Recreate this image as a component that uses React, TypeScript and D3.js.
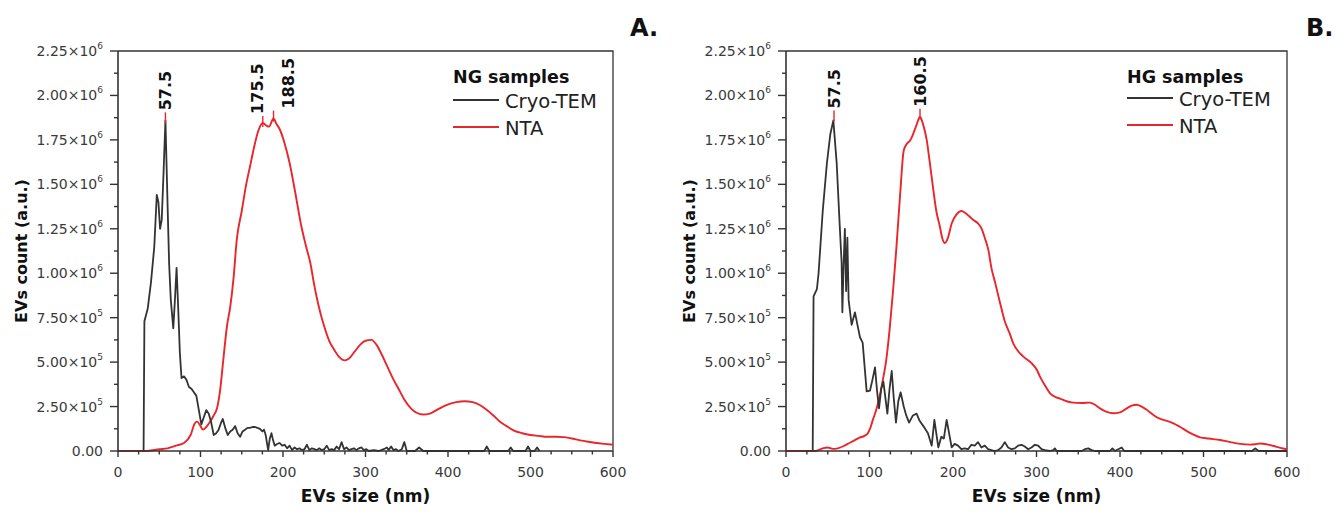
import * as d3 from "d3";

// ---- data (y in counts) ----
const ngCryoX = [31, 32, 36, 40, 44, 47, 49, 51, 53, 55, 57.5, 60, 62, 64, 67, 69, 71, 73, 75, 77, 80, 83, 86, 89, 92, 95, 98, 101, 104, 107, 110, 113, 116, 119, 122, 125, 127, 130, 133, 136, 139, 142, 145, 148, 151, 154, 157, 160, 163, 166, 169, 172, 175, 177, 179, 182, 184, 186, 188, 190, 193, 196, 199, 202, 205, 208, 211, 214, 217, 220, 223, 226, 229, 232, 235, 238, 241, 244, 247, 250, 253, 256, 259, 262, 265, 268, 271, 274, 277, 280, 283, 286, 289, 292, 295, 298, 301, 304, 310, 316, 322, 326, 328, 331, 334, 337, 340, 344, 347, 350, 360, 365, 370, 444, 447, 450, 473, 476, 479, 494, 497, 500, 505, 508, 511];
const ngCryoY = [0, 7.3, 8.0, 9.5, 11.5, 14.4, 14.0, 12.5, 13.0, 15.4, 18.6, 14.0, 10.5, 8.5, 6.9, 8.5, 10.3, 8.0, 5.5, 4.1, 4.2, 4.0, 3.6, 3.5, 3.3, 3.1, 2.3, 1.5, 1.9, 2.3, 2.1, 1.6, 0.9, 1.0, 1.2, 1.6, 1.8, 1.3, 0.9, 1.1, 1.2, 1.4, 1.0, 0.8, 1.1, 1.2, 1.3, 1.3, 1.35, 1.35, 1.3, 1.25, 1.1, 1.2, 0.9, 0.05, 0.7, 1.0, 0.6, 0.3, 0.4, 0.45, 0.3, 0.35, 0.15, 0.3, 0.05, 0.2, 0.1, 0.15, 0.05, 0.1, 0.35, 0.05, 0.15, 0.1, 0.05, 0.15, 0.05, 0.1, 0.3, 0.05, 0.1, 0.05, 0.25, 0.1, 0.5, 0.1, 0.2, 0.05, 0.1, 0.15, 0.05, 0.15, 0.2, 0.05, 0.1, 0, 0.05, 0, 0.1, 0.2, 0.05, 0.25, 0.05, 0.1, 0, 0.1, 0.5, 0, 0, 0.2, 0, 0, 0.25, 0, 0, 0.2, 0, 0, 0.25, 0, 0, 0.2, 0].map(v => v * 1e5);

const ngNtaX = [0, 30, 40, 50, 60, 70, 80, 88, 93, 96, 100, 103, 107, 111, 116, 120, 124, 128, 132, 136, 140, 144, 150, 155, 160, 165, 170, 175.5, 180, 183, 188.5, 192, 196, 202, 208, 215, 222, 228, 233, 238, 243, 250, 256, 262, 268, 275, 280, 287, 294, 300, 307, 313, 320, 326, 333, 340, 347, 355, 362, 370, 378, 386, 394, 402, 410, 420, 430, 438, 446, 455, 463, 471, 480, 490, 500, 510, 520, 530, 540, 550, 560, 570, 580, 590, 600];
const ngNtaY = [0, 0, 0.03, 0.1, 0.15, 0.3, 0.45, 0.9, 1.55, 1.65, 1.4, 1.2, 1.35, 1.6, 2.0, 2.4, 3.5, 5.3, 7.0, 8.1, 9.7, 11.9, 13.5, 14.9, 16.0, 17.1, 18.0, 18.45, 18.3, 18.25, 18.7, 18.4, 18.1, 17.3, 16.2, 14.5, 12.7, 11.5, 10.6, 9.3, 8.2, 7.0, 6.2, 5.7, 5.3, 5.1, 5.2, 5.6, 6.0, 6.2, 6.25, 6.0, 5.4, 4.8, 4.1, 3.5, 2.9, 2.4, 2.15, 2.05, 2.1, 2.3, 2.5, 2.65, 2.75, 2.8, 2.75, 2.6, 2.35, 2.0, 1.65, 1.4, 1.15, 1.0, 0.9, 0.85, 0.8, 0.8, 0.78, 0.7, 0.6, 0.52, 0.45, 0.4, 0.35].map(v => v * 1e5);

const hgCryoX = [32, 33, 37, 39, 44, 49, 53, 56.7, 60.7, 64, 66.6, 67.5, 69, 70.5, 72, 73.5, 75, 78.6, 82.6, 86, 88.6, 91.8, 96.6, 100.6, 103.5, 106.6, 109, 111.4, 114, 116.6, 119, 121.4, 124, 126.6, 129, 131.7, 134.5, 137.3, 141, 144, 147.4, 152, 156.4, 160, 164.5, 170, 174.5, 177.7, 182.4, 186, 189, 192.4, 198.4, 202, 206, 210, 214, 218, 222, 226, 230, 234, 238, 242, 246, 250, 254, 258, 262, 266, 270, 274, 278, 282, 286, 290, 294, 298, 302, 306, 310, 316, 320, 322, 324, 354, 358, 362, 366, 370, 388, 391, 394, 398, 402, 405, 558, 562, 566, 600];
const hgCryoY = [0, 8.7, 9.1, 10.0, 13.5, 16.2, 17.8, 18.6, 16.2, 13.0, 10.6, 7.8, 10.5, 12.5, 9.0, 12.0, 8.5, 7.1, 7.8, 7.0, 6.4, 6.1, 3.35, 3.4, 4.0, 4.7, 3.4, 2.4, 3.5, 3.9, 3.0, 2.1, 3.5, 4.5, 3.0, 1.6, 2.8, 3.3, 2.5, 2.0, 1.6, 2.0, 2.1, 1.7, 1.4, 1.0, 0.3, 1.75, 0.2, 0.8, 0.7, 1.75, 0.2, 0.4, 0.3, 0.1, 0.15, 0.1, 0.35, 0.3, 0.5, 0.2, 0.3, 0.1, 0.05, 0, 0.05, 0.2, 0.5, 0.2, 0.1, 0.15, 0.3, 0.35, 0.25, 0.1, 0.2, 0.35, 0.3, 0.1, 0.05, 0, 0.05, 0.15, 0, 0, 0.1, 0.15, 0.05, 0, 0, 0.15, 0, 0.1, 0.2, 0, 0, 0.15, 0, 0].map(v => v * 1e5);

const hgNtaX = [0, 35, 44, 50, 56, 62, 70, 76, 82, 88, 94, 98, 101, 104, 108, 112, 116, 120, 124, 128, 132, 136.5, 141, 145, 148.5, 152, 156, 160.5, 164, 168.5, 172, 176.4, 180, 184.4, 187, 190.4, 194, 198.4, 204, 210.4, 217, 224.4, 230, 234.4, 238, 242.4, 246, 250.3, 256, 262, 268, 272, 280, 287, 294, 300, 304, 310, 316, 322, 328, 336, 344, 354, 364, 370, 376, 384, 392, 400, 408, 414, 420, 426, 432, 438, 444, 452, 458, 464, 472, 480, 488, 496, 506, 520, 532, 544, 556, 562, 568, 576, 584, 592, 600];
const hgNtaY = [0, 0, 0.15, 0.2, 0.12, 0.15, 0.3, 0.45, 0.6, 0.75, 0.85, 1.0, 1.3, 1.75, 2.3, 3.05, 4.0, 5.1, 6.8, 8.9, 11.3, 14.3, 16.9, 17.3, 17.45, 17.8, 18.3, 18.8, 18.4, 17.5, 16.3, 14.7, 13.5, 12.6, 12.0, 11.7, 12.0, 12.8, 13.3, 13.5, 13.3, 13.0, 12.8, 12.5, 12.0, 11.3, 10.3, 9.5, 8.4, 7.3, 6.6, 6.07, 5.5, 5.2, 4.94, 4.6, 4.2, 3.7, 3.26, 3.05, 2.95, 2.8, 2.72, 2.7, 2.72, 2.6, 2.4, 2.2, 2.12, 2.17, 2.4, 2.55, 2.6, 2.5, 2.32, 2.1, 1.9, 1.75, 1.67, 1.56, 1.35, 1.12, 0.92, 0.77, 0.7, 0.62, 0.5, 0.4, 0.36, 0.38, 0.42, 0.37, 0.28, 0.18, 0.1].map(v => v * 1e5);

const ngPeakX = [57.5, 175.5, 188.5];
const ngPeakY = [1.86e6, 1.84e6, 1.87e6];
const hgPeakX = [57.5, 160.5];
const hgPeakY = [1.87e6, 1.88e6];

const xTicks = [0, 100, 200, 300, 400, 500, 600];
const xMinor = d3.range(0, 601, 25);
const yTicks = [0, 2.5e5, 5e5, 7.5e5, 1e6, 1.25e6, 1.5e6, 1.75e6, 2e6, 2.25e6];
const yMinor = d3.range(0, 2.25e6 + 1, 1.25e5);

const FONT = "'DejaVu Sans', sans-serif";
const BLACK = "#333";
const RED = "#e8262b";
const AXIS = "#333";

const TOP = 51;
const BOTTOM = 451;

function yLabel(v: number) {
  if (v === 0) return { m: "0.00", e: "" };
  const e = Math.floor(Math.log10(v) + 1e-9);
  return { m: (v / Math.pow(10, e)).toFixed(2) + "\u00d710", e: String(e) };
}

type PanelProps = {
  x0: number;
  x1: number;
  title: string;
  tag: string;
  tagX: number;
  cryoX: number[];
  cryoY: number[];
  ntaX: number[];
  ntaY: number[];
  peakX: number[];
  peakY: number[];
  labelShift: number[];
  legY: number[];
};

function Panel(p: PanelProps) {
  const x = d3.scaleLinear().domain([0, 600]).range([p.x0, p.x1]);
  const y = d3.scaleLinear().domain([0, 2.25e6]).range([BOTTOM, TOP]);
  const cryoPath = d3.line<number>().x(d => x(d)).y((d, i) => y(p.cryoY[i]))(p.cryoX) || "";
  const ntaPath = d3.line<number>().x(d => x(d)).y((d, i) => y(p.ntaY[i])).curve(d3.curveMonotoneX)(p.ntaX) || "";
  const lx = p.x1 - 160;
  const cx = (p.x0 + p.x1) / 2;

  return (
    <g>
      {/* frame */}
      <path d={`M${p.x0},${TOP}H${p.x1}V${BOTTOM}`} fill="none" stroke={AXIS} strokeWidth={1.3} />

      {/* data */}
      <path d={ntaPath} fill="none" stroke={RED} strokeWidth={1.9} />
      <path d={cryoPath} fill="none" stroke={BLACK} strokeWidth={1.8} strokeLinejoin="round" />

      {/* axes */}
      <line x1={p.x0} x2={p.x1} y1={BOTTOM} y2={BOTTOM} stroke={AXIS} strokeWidth={1.6} />
      <line x1={p.x0} x2={p.x0} y1={TOP} y2={BOTTOM} stroke={AXIS} strokeWidth={1.6} />
      {xMinor.map(t => (
        <line key={"xm" + t} x1={x(t)} x2={x(t)} y1={BOTTOM} y2={BOTTOM + (t % 100 === 0 ? 6 : 3.5)} stroke={AXIS} strokeWidth={1.4} />
      ))}
      {xTicks.map(t => (
        <text key={"xt" + t} x={x(t)} y={477} textAnchor="middle" fontFamily={FONT} fontSize={14} fill="#3a3a3a">{t}</text>
      ))}
      {yMinor.map((t, i) => (
        <line key={"ym" + i} x1={p.x0} x2={p.x0 - (i % 2 === 0 ? 8 : 4)} y1={y(t)} y2={y(t)} stroke={AXIS} strokeWidth={1.4} />
      ))}
      {yTicks.map(t => {
        const l = yLabel(t);
        return (
          <text key={"yt" + t} x={p.x0 - 15} y={y(t) + 5} textAnchor="end" fontFamily={FONT} fontSize={14} fill="#3a3a3a">
            {l.m}
            {l.e && <tspan fontSize={9} dy={-7}>{l.e}</tspan>}
          </text>
        );
      })}

      {/* axis titles */}
      <text x={cx} y={502} textAnchor="middle" fontFamily={FONT} fontWeight="bold" fontSize={17} fill="#111">EVs size (nm)</text>
      <text transform={`translate(${p.x0 - 91},${(TOP + BOTTOM) / 2}) rotate(-90)`} textAnchor="middle" fontFamily={FONT} fontWeight="bold" fontSize={16} fill="#111">EVs count (a.u.)</text>

      {/* peak markers */}
      {p.peakX.map((px, i) => (
        <g key={"pk" + i}>
          <line x1={x(px)} x2={x(px)} y1={y(p.peakY[i]) + 3} y2={y(p.peakY[i]) - 8} stroke={RED} strokeWidth={1.4} />
          <text transform={`translate(${x(px) + 6 + p.labelShift[i]},${y(p.peakY[i]) - 10}) rotate(-90)`} fontFamily={FONT} fontWeight="bold" fontSize={16} fill="#111">{px}</text>
        </g>
      ))}

      {/* legend */}
      <text x={lx} y={83} fontFamily={FONT} fontWeight="bold" fontSize={17.5} fill="#111">{p.title}</text>
      <line x1={lx} x2={lx + 46} y1={p.legY[0]} y2={p.legY[0]} stroke={BLACK} strokeWidth={1.8} />
      <text x={lx + 52} y={p.legY[0] + 8} fontFamily={FONT} fontSize={19.5} fill="#222">Cryo-TEM</text>
      <line x1={lx} x2={lx + 46} y1={p.legY[1]} y2={p.legY[1]} stroke={RED} strokeWidth={2.2} />
      <text x={lx + 52} y={p.legY[1] + 8} fontFamily={FONT} fontSize={19.5} fill="#222">NTA</text>

      {/* panel tag */}
      <text x={p.tagX} y={36} fontFamily={FONT} fontWeight="bold" fontSize={24} fill="#111">{p.tag}</text>
    </g>
  );
}

export default function App() {
  return (
    <svg width={1336} height={514} style={{ position: "absolute", left: 0, top: 0, background: "#fff" }}>
      <rect width={1336} height={514} fill="#fff" />
      <Panel x0={118} x1={613} title="NG samples" tag="A." tagX={630} cryoX={ngCryoX} cryoY={ngCryoY} ntaX={ngNtaX} ntaY={ngNtaY} peakX={ngPeakX} peakY={ngPeakY} labelShift={[0, -6, 14]} legY={[100, 127]} />
      <Panel x0={786} x1={1287} title="HG samples" tag="B." tagX={1306} cryoX={hgCryoX} cryoY={hgCryoY} ntaX={hgNtaX} ntaY={hgNtaY} peakX={hgPeakX} peakY={hgPeakY} labelShift={[0, 0]} legY={[98, 125]} />
    </svg>
  );
}
